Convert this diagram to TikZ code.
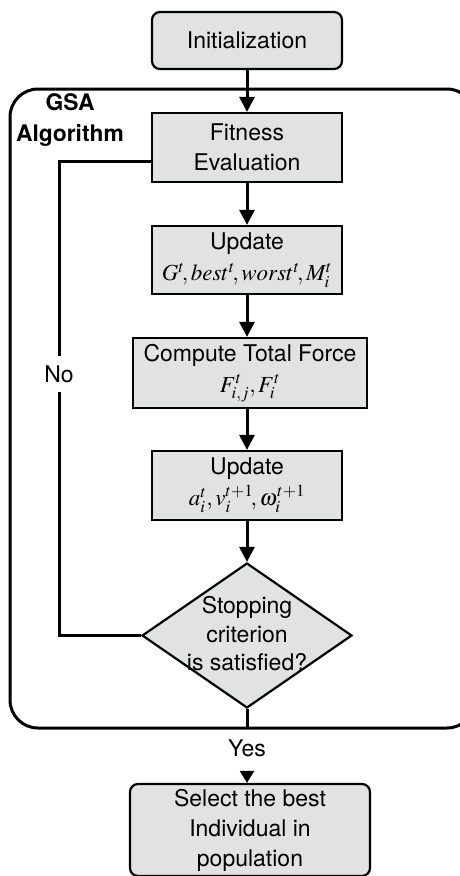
\documentclass[tikz,border=0pt]{standalone}
\usepackage{mathptmx}
\usepackage{fontspec}
\setmainfont{TeX Gyre Heros}
\usetikzlibrary{shapes.geometric,arrows.meta}
\definecolor{boxgray}{RGB}{225,226,226}
\begin{document}
\begin{tikzpicture}[x=1pt,y=-1pt,
  every node/.style={font=\fontsize{23}{30}\selectfont},
  procbox/.style={draw=black,line width=2.2pt,fill=boxgray,align=center,inner sep=0pt},
  roundbox/.style={procbox,rounded corners=8pt},
  flow/.style={line width=3pt,-{Triangle[length=15pt,width=15pt]}},
  plain/.style={line width=3pt}]
\useasboundingbox[fill=white] (0,0) rectangle (459,876);
% outer frame
\draw[line width=3pt,rounded corners=28pt] (10,89) rectangle (475,728);
\node[font=\bfseries\fontsize{22.8}{31}\selectfont,align=center] (gsa) at (70,120.5) {GSA\\Algorithm};
% nodes
\node[roundbox,minimum width=190pt,minimum height=57pt] (init) at (247,40.5) {Initialization};
\node[procbox,minimum width=190pt,minimum height=69pt] (fit) at (247,147.5) {Fitness\\Evaluation};
\node[procbox,minimum width=190pt,minimum height=68pt] (upd1) at (247,260) {Update\\[1pt]$G^t\!, best^t\!, worst^t\!, M_i^t$};
\node[procbox,minimum width=234pt,minimum height=70pt] (comp) at (250,373) {Compute Total Force\\[1pt]$F_{i,j}^t, F_i^t$};
\node[procbox,minimum width=190pt,minimum height=69pt] (upd2) at (247,485.5) {Update\\[1pt]$a_i^t, v_i^{t+1}\!, \omega_i^{t+1}$};
\node[diamond,draw=black,line width=2.2pt,fill=boxgray,inner sep=0pt,minimum width=210pt,minimum height=145pt] (dia) at (247,635.5) {};
\node[align=center,inner sep=0pt,font=\fontsize{23}{28.5}\selectfont] (diatext) at (247,634) {Stopping\\criterion\\is satisfied?};
\node[roundbox,minimum width=240pt,minimum height=92pt] (final) at (250,830) {Select the best\\Individual in\\population};
\node[inner sep=2pt] (yes) at (247,748) {Yes};
\coordinate (nocorner) at (59,161);
\coordinate (framebot) at (247,728);
% connectors
\draw[flow] (init.south) -- (fit.north);
\draw[flow] (fit.south) -- (upd1.north);
\draw[flow] (upd1.south) -- (upd1.south |- comp.north);
\draw[flow] (upd1.south |- comp.south) -- (upd2.north);
\draw[flow] (upd2.south) -- (dia.north);
\draw[plain] (dia.south) -- (framebot);
\draw[line width=2.4pt,-{Triangle[length=12pt,width=14pt]}] ([yshift=-12pt]yes.south) -- (yes.south |- final.north);
\draw[plain] (dia.west) -- (dia.west -| nocorner) -- (nocorner) -- (fit.west |- nocorner);
\node[fill=white,inner sep=0pt,minimum height=36pt,minimum width=30pt] (no) at (59,374) {No};
\end{tikzpicture}
\end{document}
